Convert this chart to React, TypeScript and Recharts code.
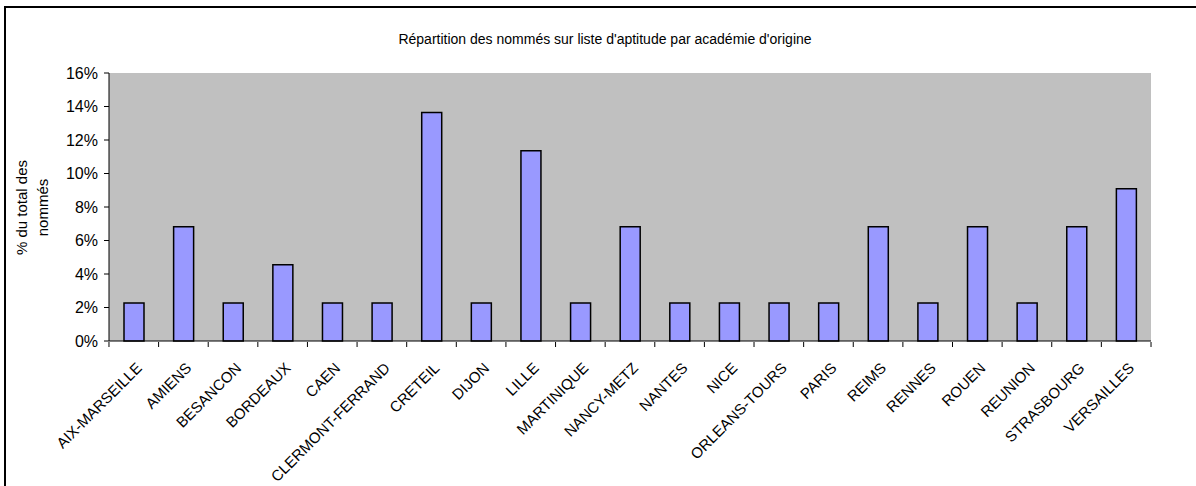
import React from "react"
import { BarChart, Bar, XAxis, YAxis, CartesianGrid } from "recharts"

const academies = [
  "AIX-MARSEILLE", "AMIENS", "BESANCON", "BORDEAUX", "CAEN", "CLERMONT-FERRAND", "CRETEIL",
  "DIJON", "LILLE", "MARTINIQUE", "NANCY-METZ", "NANTES", "NICE", "ORLEANS-TOURS", "PARIS",
  "REIMS", "RENNES", "ROUEN", "REUNION", "STRASBOURG", "VERSAILLES",
]
const pctNommes = [
  2.27, 6.82, 2.27, 4.55, 2.27, 2.27, 13.64, 2.27, 11.36, 2.27, 6.82, 2.27, 2.27, 2.27, 2.27,
  6.82, 2.27, 6.82, 2.27, 6.82, 9.09,
]
const yTicks = [0, 2, 4, 6, 8, 10, 12, 14, 16]

const data = academies.map((name, i) => ({ name, pct: pctNommes[i] }))

const W = 1196
const H = 486
const M = { top: 73, right: 45, bottom: 144, left: 108 }
const STEP = (W - M.left - M.right) / academies.length
const AXIS_Y = H - M.bottom
const FONT = "'Liberation Sans', Arial, sans-serif"

function CatTick(props: any) {
  const { x, y, payload, index } = props
  const left = x - STEP / 2
  const ax = x + 9
  const ay = y + 20
  return (
    <g>
      <line x1={left} y1={AXIS_Y} x2={left} y2={AXIS_Y + 5} stroke="#000" />
      {index === academies.length - 1 && (
        <line x1={left + STEP} y1={AXIS_Y} x2={left + STEP} y2={AXIS_Y + 5} stroke="#000" />
      )}
      <text
        x={ax}
        y={ay}
        textAnchor="end"
        transform={`rotate(-45, ${ax}, ${ay})`}
        fontSize={15}
        fontFamily={FONT}
        fill="#000"
      >
        {payload.value}
      </text>
    </g>
  )
}

function YLabel() {
  const cy = M.top + (H - M.top - M.bottom) / 2
  return (
    <text
      transform={`translate(33, ${cy}) rotate(-90)`}
      textAnchor="middle"
      fontSize={15}
      fontFamily={FONT}
      fill="#000"
    >
      <tspan x={0} dy={-6}>% du total des</tspan>
      <tspan x={0} dy={21}>nommés</tspan>
    </text>
  )
}

export default function App() {
  return (
    <div style={{ position: "absolute", left: 0, top: 0, width: W, height: H, background: "#fff", fontFamily: FONT }}>
      <div
        style={{
          position: "absolute",
          left: 4,
          top: 6,
          width: W + 20,
          height: H + 20,
          border: "2px solid #000",
          boxSizing: "border-box",
        }}
      />
      <div
        style={{
          position: "absolute",
          left: 0,
          top: 31,
          width: 1210,
          textAlign: "center",
          fontSize: 14,
          color: "#000",
        }}
      >
        Répartition des nommés sur liste d'aptitude par académie d'origine
      </div>
      <div style={{ position: "absolute", left: 0, top: 0 }}>
        <BarChart width={W} height={H} data={data} margin={M} barSize={20}>
          <CartesianGrid horizontal={false} vertical={false} fill="#C0C0C0" />
          <XAxis
            dataKey="name"
            interval={0}
            tickLine={false}
            axisLine={{ stroke: "#000" }}
            tick={<CatTick />}
            height={1}
          />
          <XAxis xAxisId="top" orientation="top" dataKey="name" tick={false} tickLine={false} axisLine={{ stroke: "#808080", strokeWidth: 2 }} height={0} />
          <YAxis
            domain={[0, 16]}
            ticks={yTicks}
            interval={0}
            tickFormatter={(v) => `${v}%`}
            tickSize={5}
            tickMargin={6}
            tickLine={{ stroke: "#000" }}
            axisLine={{ stroke: "#000" }}
            tick={{ fill: "#000", fontSize: 16, fontFamily: FONT }}
            width={1}
            label={<YLabel />}
          />
          <YAxis yAxisId="right" orientation="right" domain={[0, 16]} tick={false} tickLine={false} axisLine={{ stroke: "#808080", strokeWidth: 2 }} width={0} />
          <Bar dataKey="pct" fill="#9999FF" stroke="#000" strokeWidth={1.5} isAnimationActive={false} />
        </BarChart>
      </div>
    </div>
  )
}
